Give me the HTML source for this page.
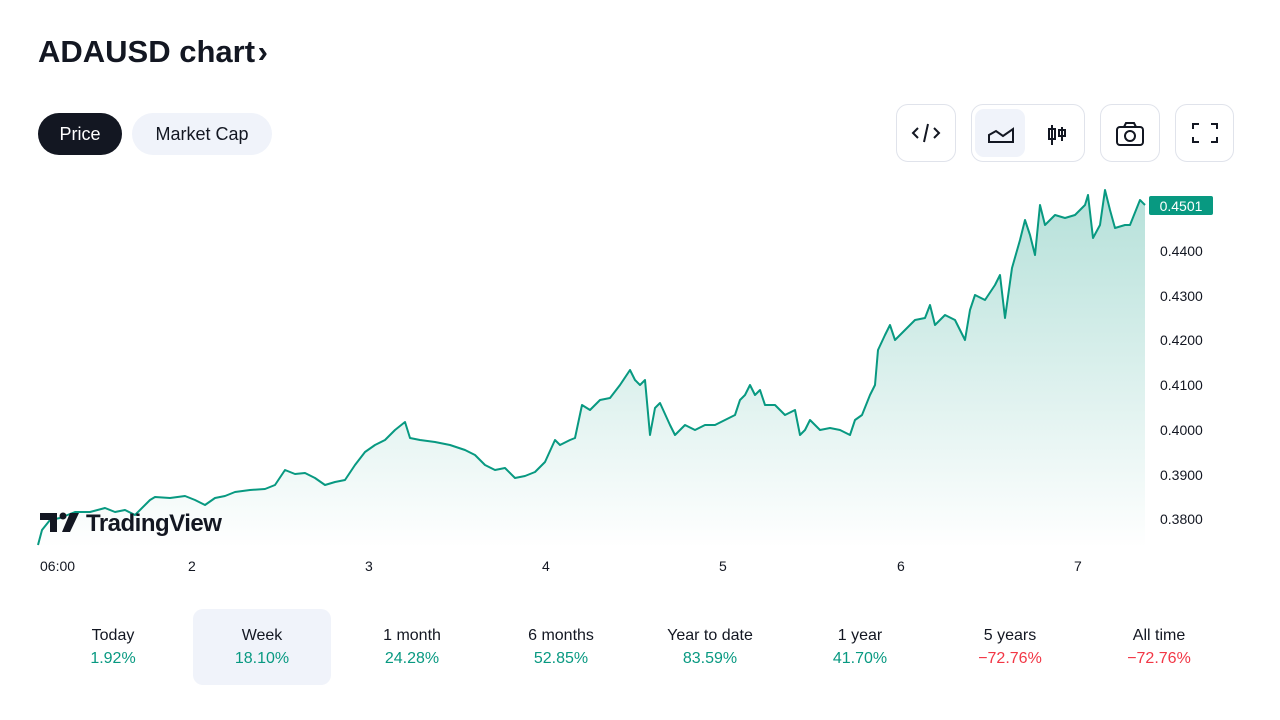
<!DOCTYPE html>
<html><head><meta charset="utf-8"><style>
body{margin:0;width:1280px;height:720px;background:#fff;font-family:"Liberation Sans",sans-serif;color:#131722;position:relative;overflow:hidden}
.a{position:absolute}
.title{left:38px;top:34px;font-size:31px;font-weight:bold;letter-spacing:0px}
.pill{top:113px;height:42px;border-radius:21px;font-size:18px;line-height:42px;text-align:center}
.btn{top:104px;height:58px;border:1px solid #e0e3eb;border-radius:12px;box-sizing:border-box}
.stat{top:627px;width:140px;text-align:center;font-size:16px}
.stat .v{margin-top:5px;color:#089981}
.stat .r{color:#f23645}
.yl{left:1160px;font-size:14px;color:#131722}
.xl{top:558px;font-size:14px}
</style></head><body>
<div class="a title">ADAUSD chart <span style="margin-left:-6px">›</span></div>
<div class="a pill" style="left:38px;width:84px;background:#131722;color:#fff">Price</div>
<div class="a pill" style="left:132px;width:140px;background:#f0f3fa">Market Cap</div>
<div class="a btn" style="left:896px;width:60px"><svg width="58" height="56"><path d="M21 23l-5 5 5 5M37 23l5 5-5 5M31 19l-4 18" stroke="#131722" stroke-width="2" fill="none"/></svg></div>
<div class="a btn" style="left:971px;width:114px"><div class="a" style="left:3px;top:4px;width:50px;height:48px;background:#f0f3fa;border-radius:9px"></div><svg class="a" style="left:0;top:0" width="112" height="56"><path d="M17 37v-7l7-4 7 5 10-7v13z" stroke="#131722" stroke-width="2" fill="none"/><path d="M80 20v20M77 24h6v10h-6zM90 22v14M87 25h6v6h-6z" stroke="#131722" stroke-width="2" fill="none"/></svg></div>
<div class="a btn" style="left:1100px;width:60px"><svg width="58" height="56"><rect x="16" y="22" width="26" height="18" rx="3" stroke="#131722" stroke-width="2" fill="none"/><path d="M23 22l2-4h8l2 4" stroke="#131722" stroke-width="2" fill="none"/><circle cx="29" cy="31" r="5" stroke="#131722" stroke-width="2" fill="none"/></svg></div>
<div class="a btn" style="left:1175px;width:59px"><svg width="58" height="56"><path d="M17 24v-5h6M35 19h6v5M41 32v5h-6M23 37h-6v-5" stroke="#131722" stroke-width="2" fill="none"/></svg></div>
<svg class="a" style="left:0;top:0" width="1280" height="600">
<defs><linearGradient id="g2" x1="0" y1="190" x2="0" y2="548" gradientUnits="userSpaceOnUse"><stop offset="0" stop-color="#089981" stop-opacity="0.3"/><stop offset="1" stop-color="#089981" stop-opacity="0"/></linearGradient></defs>
<polygon fill="url(#g2)" points="38,548 38,545 42,530 50,520 60,518 75,512 90,512 105,508 115,512 125,510 135,515 150,500 155,497 170,498 185,496 195,500 205,505 215,498 225,496 235,492 250,490 265,489 275,485 285,470 295,474 305,473 315,478 325,485 335,482 345,480 355,465 365,452 375,445 385,440 395,430 405,422 410,438 420,440 435,442 450,445 465,450 475,455 485,465 495,470 505,468 515,478 525,476 535,472 545,462 555,440 560,445 570,440 575,438 582,405 590,410 600,400 610,398 620,385 630,370 635,380 640,385 645,380 650,435 655,408 660,403 670,425 675,435 685,425 695,430 705,425 715,425 725,420 735,415 740,400 745,395 750,385 755,395 760,390 765,405 775,405 785,415 795,410 800,435 805,430 810,420 820,430 830,428 840,430 850,435 855,420 862,415 870,395 875,385 878,350 885,335 890,325 895,340 905,330 915,320 925,318 930,305 935,325 945,315 955,320 960,330 965,340 970,310 975,295 985,300 995,285 1000,275 1005,318 1012,268 1020,240 1025,220 1030,235 1035,255 1040,205 1045,225 1055,215 1065,218 1075,215 1085,205 1088,195 1093,238 1100,225 1105,190 1110,210 1115,228 1125,225 1130,225 1140,200 1145,205 1145,548"/>
<polyline fill="none" stroke="#089981" stroke-width="2" stroke-linejoin="round" points="38,545 42,530 50,520 60,518 75,512 90,512 105,508 115,512 125,510 135,515 150,500 155,497 170,498 185,496 195,500 205,505 215,498 225,496 235,492 250,490 265,489 275,485 285,470 295,474 305,473 315,478 325,485 335,482 345,480 355,465 365,452 375,445 385,440 395,430 405,422 410,438 420,440 435,442 450,445 465,450 475,455 485,465 495,470 505,468 515,478 525,476 535,472 545,462 555,440 560,445 570,440 575,438 582,405 590,410 600,400 610,398 620,385 630,370 635,380 640,385 645,380 650,435 655,408 660,403 670,425 675,435 685,425 695,430 705,425 715,425 725,420 735,415 740,400 745,395 750,385 755,395 760,390 765,405 775,405 785,415 795,410 800,435 805,430 810,420 820,430 830,428 840,430 850,435 855,420 862,415 870,395 875,385 878,350 885,335 890,325 895,340 905,330 915,320 925,318 930,305 935,325 945,315 955,320 960,330 965,340 970,310 975,295 985,300 995,285 1000,275 1005,318 1012,268 1020,240 1025,220 1030,235 1035,255 1040,205 1045,225 1055,215 1065,218 1075,215 1085,205 1088,195 1093,238 1100,225 1105,190 1110,210 1115,228 1125,225 1130,225 1140,200 1145,205"/>
<rect x="1149" y="196" width="64" height="19" rx="2" fill="#089981"/>
<text x="1181" y="211" fill="#fff" font-size="14" text-anchor="middle" font-family="Liberation Sans">0.4501</text>
<path d="M40 513h17v19h-7v-12h-10z" fill="#131722"/>
<circle cx="63" cy="516" r="3.5" fill="#131722"/>
<path d="M70 513h9l-9 19h-8z" fill="#131722"/>
<text x="86" y="531" font-size="24" font-weight="bold" fill="#131722" font-family="Liberation Sans" letter-spacing="-0.5">TradingView</text>
</svg>
<div class="a yl" style="top:243px">0.4400</div>
<div class="a yl" style="top:288px">0.4300</div>
<div class="a yl" style="top:332px">0.4200</div>
<div class="a yl" style="top:377px">0.4100</div>
<div class="a yl" style="top:422px">0.4000</div>
<div class="a yl" style="top:467px">0.3900</div>
<div class="a yl" style="top:511px">0.3800</div>
<div class="a xl" style="left:40px">06:00</div>
<div class="a xl" style="left:188px">2</div>
<div class="a xl" style="left:365px">3</div>
<div class="a xl" style="left:542px">4</div>
<div class="a xl" style="left:719px">5</div>
<div class="a xl" style="left:897px">6</div>
<div class="a xl" style="left:1074px">7</div>
<div class="a" style="left:193px;top:609px;width:138px;height:76px;background:#f0f3fa;border-radius:10px"></div>
<div class="a stat" style="left:43px">Today<div class="v">1.92%</div></div>
<div class="a stat" style="left:192px">Week<div class="v">18.10%</div></div>
<div class="a stat" style="left:342px">1 month<div class="v">24.28%</div></div>
<div class="a stat" style="left:491px">6 months<div class="v">52.85%</div></div>
<div class="a stat" style="left:640px">Year to date<div class="v">83.59%</div></div>
<div class="a stat" style="left:790px">1 year<div class="v">41.70%</div></div>
<div class="a stat" style="left:940px">5 years<div class="v r">−72.76%</div></div>
<div class="a stat" style="left:1089px">All time<div class="v r">−72.76%</div></div>
</body></html>
